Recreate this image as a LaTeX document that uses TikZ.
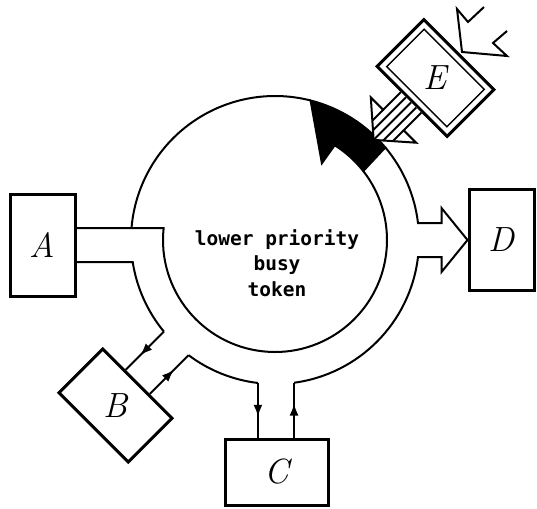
\documentclass[tikz,border=0pt]{standalone}
\usepackage{fontspec}
\newfontfamily\monof{DejaVu Sans Mono}
\usetikzlibrary{calc,arrows.meta,decorations.markings}
\begin{document}
\begin{tikzpicture}[x=1pt,y=-1pt,
  wall/.style={line width=2pt},
  box/.style={draw, line width=3pt, inner sep=0pt},
  lbl/.style={font=\fontsize{35}{35}\selectfont\itshape},
  conn/.style={line width=2pt, postaction={decorate},
    decoration={markings, mark=at position 0.62 with {\arrow{Latex[length=12pt,width=9pt]}}}}
]
\useasboundingbox (0,0) rectangle (537,508);
\coordinate (O) at (275,240);
% boxes
\node[box, lbl, minimum width=65pt, minimum height=102pt] (A) at (42.5,245) {A};
\node[box, lbl, minimum width=103pt, minimum height=66pt] (C) at (276.5,472) {C};
\node[box, lbl, minimum width=65pt, minimum height=101pt] (D) at (501.5,240) {D};
\node[box, rotate=-45, minimum width=98pt, minimum height=62pt] (B) at (115.5,405.5) {};
\node[lbl] (Bl) at (B) {B};
\node[draw, line width=3pt, inner sep=0pt, rotate=-45, minimum width=99pt, minimum height=66pt] (E) at (435.5,78) {};
\node[draw, line width=1.4pt, inner sep=0pt, rotate=-45, minimum width=85pt, minimum height=53pt] (Ei) at (E) {};
\node[lbl] (El) at (E) {E};
% text
\node[font=\monof\bfseries\fontsize{19.5}{25.5}\selectfont, align=center] (T) at (277,263) {lower priority\\busy\\token};
% ring points
\coordinate (PB1) at ($(O)+(140.5:144)$);
\coordinate (PB2) at ($(O)+(126.9:144)$);
\coordinate (PC1) at ($(O)+(96.8:144)$);
\coordinate (PC2) at ($(O)+(82.4:144)$);
\coordinate (B1) at ($(B.north west)!(PB1)!(B.north east)$);
\coordinate (B2) at ($(B.north west)!(PB2)!(B.north east)$);
% walls
\draw[wall] ($(A.east)+(0,-17)$) -- ($(O)+(186.15:112)$) arc[start angle=186.15, end angle=-38, radius=112];
\draw[wall] ($(O)+(184.8:144)$) arc[start angle=184.8, end angle=284.3, radius=144];
\draw[wall] ($(A.east)+(0,17)$) -- ($(O)+(171.2:144)$) arc[start angle=171.2, end angle=140.5, radius=144];
\draw[wall] (PB2) arc[start angle=126.9, end angle=96.8, radius=144];
\draw[wall] (PC2) arc[start angle=82.4, end angle=6.78, radius=144]
  -- ($(D.west)+(-26,17)$) -- ($(D.west)+(-26,32)$) -- (D.west)
  -- ($(D.west)+(-26,-32)$) -- ($(D.west)+(-26,-17)$)
  -- ($(O)+(-6.78:144)$) arc[start angle=-6.78, end angle=-40, radius=144];
% connectors
\draw[conn] (PB1) -- (B1);
\draw[conn] (B2) -- (PB2);
\draw[conn] (PC1) -- (PC1 |- C.north);
\draw[conn] (PC2 |- C.north) -- (PC2);
% black token arrow
\filldraw[wall, fill=black] ($(O)+(284.3:144)$) arc[start angle=284.3, end angle=320, radius=144]
  -- ($(O)+(322:112)$) arc[start angle=322, end angle=302.2, radius=112]
  -- ($(O)+(301.4:90)$) -- cycle;
% striped arrow from E
\begin{scope}[shift={(E.south)}, rotate=225]
  \filldraw[wall, fill=white] (0,14.5) -- (25,14.5) -- (25,32) -- (53,0) -- (25,-32) -- (25,-14.5) -- (0,-14.5);
  \draw[wall] (25,14.5) -- (40.3,14.5);
  \draw[wall] (25,-14.5) -- (40.3,-14.5);
  \draw[wall] (0,7.25) -- (46.7,7.25);
  \draw[wall] (0,-7.25) -- (46.7,-7.25);
  \draw[wall] (0,0) -- (52,0);
\end{scope}
% incoming chevron
\draw[wall] (484,7) -- (468,22) -- (457,9) -- (462,52) -- (507,56) -- (493,43) -- (507,31);
\end{tikzpicture}
\end{document}
